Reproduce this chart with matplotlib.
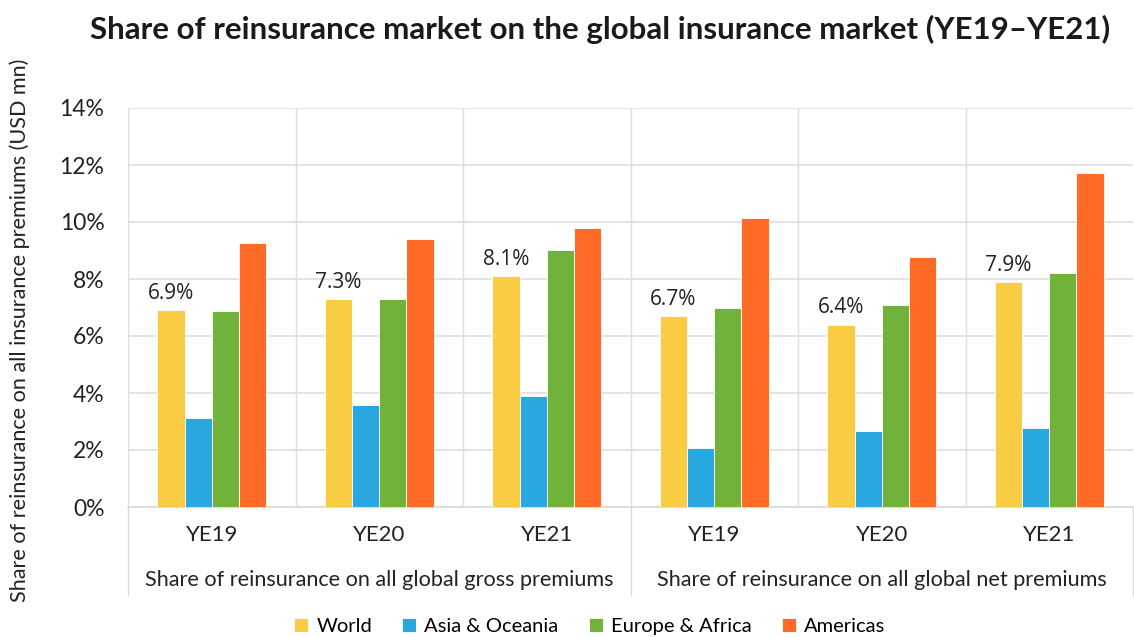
import matplotlib
matplotlib.use("Agg")
import matplotlib.pyplot as plt
import numpy as np
from matplotlib.ticker import FuncFormatter

plt.rcParams['font.family'] = ['Lato', 'DejaVu Sans']

years = ['YE19', 'YE20', 'YE21', 'YE19', 'YE20', 'YE21']
groups = ['Share of reinsurance on all global gross premiums',
          'Share of reinsurance on all global net premiums']
series = ['World', 'Asia & Oceania', 'Europe & Africa', 'Americas']
colors = ['#FACC44', '#29A8E0', '#70B23A', '#FF6A27']

world = [6.9, 7.3, 8.1, 6.7, 6.4, 7.9]
asia = [3.12, 3.58, 3.88, 2.08, 2.67, 2.77]
europe = [6.88, 7.30, 9.02, 6.99, 7.09, 8.22]
americas = [9.26, 9.39, 9.79, 10.13, 8.77, 11.73]

fig = plt.figure(figsize=(11.34, 6.37), dpi=100)
ax = fig.add_axes([128/1134, 1 - 507/637, 1005/1134, 399/637])

x = np.arange(len(years))
w = 0.162
vals = [world, asia, europe, americas]
for i, (name, v, c) in enumerate(zip(series, vals, colors)):
    ax.bar(x + (i - 1.5) * w, v, w, color=c, label=name, edgecolor='white', linewidth=0.6, zorder=3)

for xi, v in zip(x, world):
    ax.text(xi - 1.5 * w, v + 0.22, f'{v:.1f}%', ha='center', va='bottom', fontsize=15,
            color='#222222', family=['Open Sans', 'DejaVu Sans'])

ax.set_xlim(-0.5, len(years) - 0.5)
ax.set_ylim(0, 14)
ax.set_yticks(np.arange(0, 15, 2))
ax.yaxis.set_major_formatter(FuncFormatter(lambda v, p: f'{v:.0f}%'))
ax.tick_params(axis='y', length=0, labelsize=16.5, pad=17, colors='#222222')
ax.set_xticks([])
ax.grid(axis='y', color='#dedede', linewidth=1.2, zorder=0)
for s in ['top', 'right', 'left']:
    ax.spines[s].set_visible(False)
ax.spines['bottom'].set_color('#d9d9d9')
ax.spines['bottom'].set_linewidth(1.2)

# vertical separators between categories
for b in np.arange(0.5, len(years) - 1, 1):
    ax.axvline(b, color='#dedede', linewidth=1, zorder=0)
# outer / group separators extend below the axis
for b in [-0.5, 2.5, 5.5]:
    ax.plot([b, b], [0, -3.1], color='#d9d9d9', linewidth=1, clip_on=False)
ax.plot([-0.5, -0.5], [0, 14], color='#dedede', linewidth=1, zorder=0)

for xi, lab in zip(x, years):
    ax.text(xi, -0.98, lab, ha='center', va='center', fontsize=16, color='#222222')
for gi, g in enumerate(groups):
    ax.text(1 + gi * 3, -2.55, g, ha='center', va='center', fontsize=15.6, color='#222222')

fig.text(20/1134, 1 - 330/637, 'Share of reinsurance on all insurance premiums (USD mn)',
         rotation=90, ha='center', va='center', fontsize=15.6, color='#222222')

fig.text(0.529, 0.953, 'Share of reinsurance market on the global insurance market (YE19\u2013YE21)',
         ha='center', va='center', fontsize=22.5, fontweight='bold', color='#1a1a1a')

fig.legend(loc='center', bbox_to_anchor=(0.52, 0.016), ncol=4, frameon=False, fontsize=14.5,
           handlelength=0.7, handleheight=0.7, handletextpad=0.4, columnspacing=1.5)

fig.savefig('out.png', dpi=100)
